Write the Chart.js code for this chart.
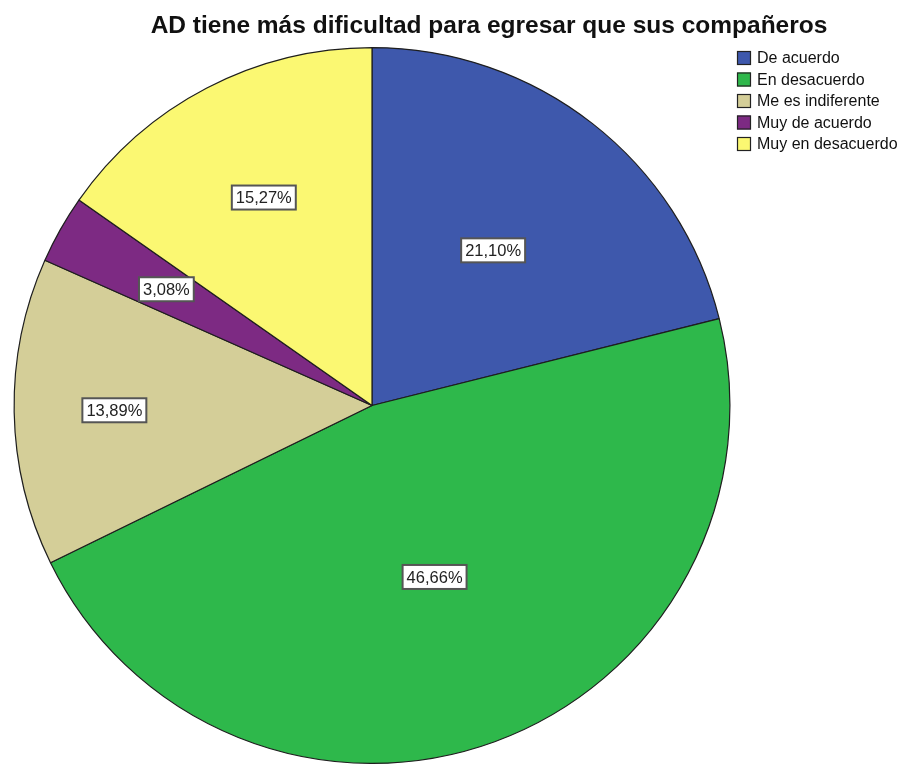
<!DOCTYPE html>
<html>
<head>
<meta charset="utf-8">
<script src="https://cdn.jsdelivr.net/npm/chart.js@4"></script>
<style>
  html, body { margin: 0; padding: 0; background: #fff; overflow: hidden; }
  #wrap { width: 910px; height: 764px; position: relative; }
</style>
</head>
<body>
<div id="wrap"><canvas id="chart"></canvas></div>
<script>
const ctx = document.getElementById('chart');

// data
const categories = ['De acuerdo', 'En desacuerdo', 'Me es indiferente', 'Muy de acuerdo', 'Muy en desacuerdo'];
const percents = [21.10, 46.66, 13.89, 3.08, 15.27];
const colors = ['#3E58AC', '#2EB84B', '#D4CE98', '#7D2A83', '#FBF872'];
// where each % label sits, as a fraction of the radius
const labelRadius = [0.55, 0.51, 0.72, 0.66, 0.655];

const fmt = v => v.toFixed(2).replace('.', ',') + '%';

const decorations = {
    id: 'decorations',
    afterDatasetsDraw(chart) {
        const c = chart.ctx;
        const meta = chart.getDatasetMeta(0);
        c.save();

        // slice labels
        c.font = '16.5px "Liberation Sans", Arial, sans-serif';
        c.textAlign = 'center';
        c.textBaseline = 'middle';
        meta.data.forEach((arc, i) => {
            const p = arc.getProps(['x', 'y', 'startAngle', 'endAngle', 'outerRadius'], true);
            const mid = (p.startAngle + p.endAngle) / 2;
            const r = p.outerRadius * labelRadius[i];
            const x = p.x + Math.cos(mid) * r;
            const y = p.y + Math.sin(mid) * r;
            const txt = fmt(percents[i]);
            const w = c.measureText(txt).width + 8;
            const h = 24;
            c.fillStyle = '#fff';
            c.fillRect(x - w / 2, y - h / 2, w, h);
            c.strokeStyle = '#555';
            c.lineWidth = 2;
            c.strokeRect(x - w / 2, y - h / 2, w, h);
            c.fillStyle = '#222';
            c.fillText(txt, x, y + 1);
        });

        // title
        c.font = 'bold 24.5px "Liberation Sans", Arial, sans-serif';
        c.fillStyle = '#111';
        c.textAlign = 'center';
        c.textBaseline = 'middle';
        c.fillText('AD tiene más dificultad para egresar que sus compañeros', 489, 26);

        // legend
        c.font = '16px "Liberation Sans", Arial, sans-serif';
        c.textAlign = 'left';
        categories.forEach((lab, i) => {
            const y = 58 + i * 21.5;
            c.fillStyle = colors[i];
            c.fillRect(737, y - 7, 14, 14);
            c.strokeStyle = '#222';
            c.lineWidth = 1.2;
            c.strokeRect(737.5, y - 6.5, 13, 13);
            c.fillStyle = '#111';
            c.fillText(lab, 757, y + 1);
        });
        c.restore();
    }
};

new Chart(ctx, {
    type: 'pie',
    data: {
        labels: categories,
        datasets: [{
            data: percents,
            backgroundColor: colors,
            borderColor: '#1e1e1e',
            borderWidth: 1.2
        }]
    },
    options: {
        responsive: true,
        maintainAspectRatio: false,
        animation: false,
        layout: { padding: { top: 47, bottom: 0, left: 13, right: 179 } },
        plugins: {
            legend: { display: false },
            title: { display: false },
            tooltip: { enabled: false }
        }
    },
    plugins: [decorations]
});
</script>
</body>
</html>
